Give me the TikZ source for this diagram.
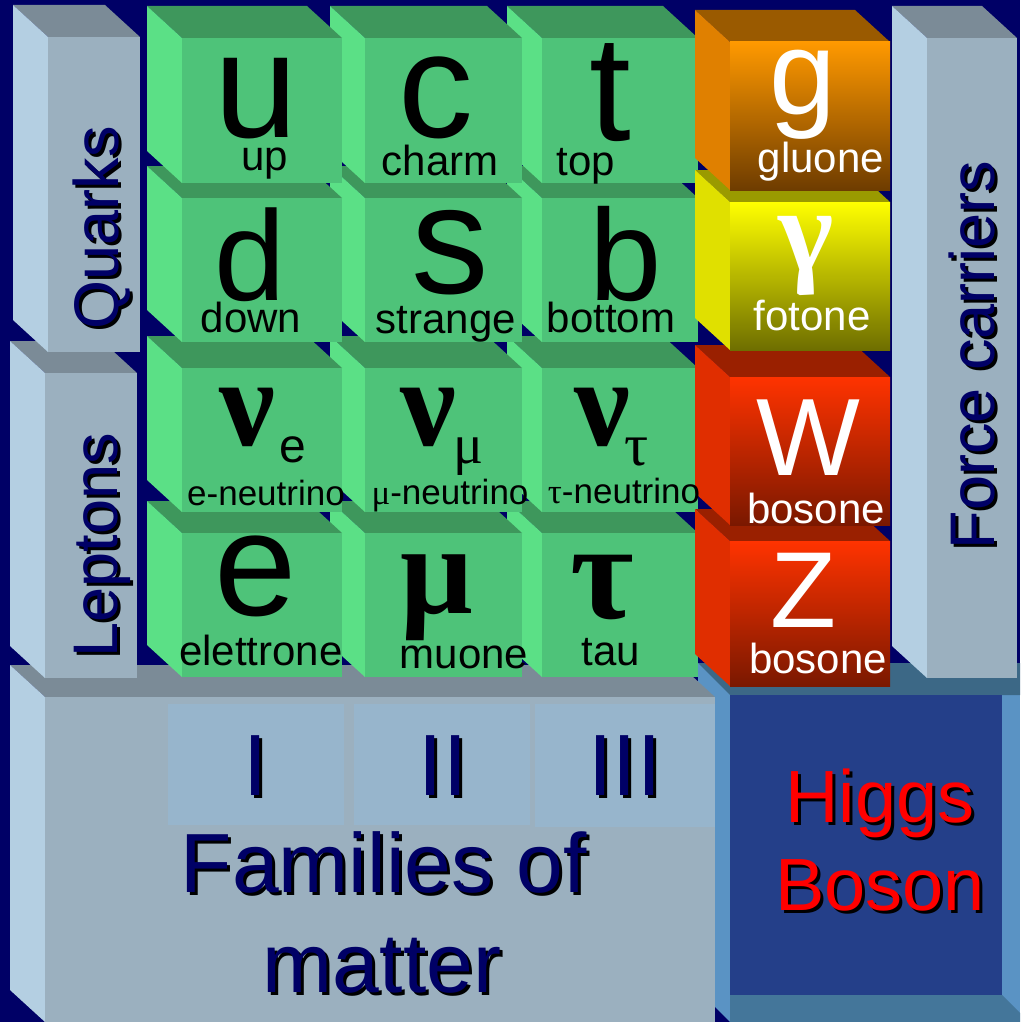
\documentclass[tikz,border=0pt]{standalone}
\usepackage{fontspec}
\setmainfont{Liberation Sans}
\newfontfamily\greekfont{Liberation Serif}
\definecolor{navybg}{HTML}{000066}
\definecolor{navytext}{HTML}{000066}
\definecolor{grayfront}{HTML}{9BB0BF}
\definecolor{graytop}{HTML}{7B8B97}
\definecolor{grayside}{HTML}{B4CFE2}
\definecolor{romanfill}{HTML}{97B5CC}
\definecolor{greenfront}{HTML}{4EC379}
\definecolor{greentop}{HTML}{3E975C}
\definecolor{greenside}{HTML}{5BE086}
\definecolor{gluonhi}{HTML}{FF9900}
\definecolor{gluonlo}{HTML}{6E3C00}
\definecolor{gluontop}{HTML}{9A5A00}
\definecolor{gluonside}{HTML}{E08000}
\definecolor{photonhi}{HTML}{FFFF00}
\definecolor{photonlo}{HTML}{6E6E00}
\definecolor{photontop}{HTML}{9A9A00}
\definecolor{photonside}{HTML}{E0E000}
\definecolor{weakhi}{HTML}{FF3300}
\definecolor{weaklo}{HTML}{7A1800}
\definecolor{weaktop}{HTML}{9A2000}
\definecolor{weakside}{HTML}{E02E00}
\definecolor{higgsfill}{HTML}{243F89}
\definecolor{higgsedge}{HTML}{5A93C4}
\definecolor{higgsupper}{HTML}{3C6886}
\definecolor{higgslower}{HTML}{44769A}
\tikzset{gray front/.style={fill=grayfront}, gray top/.style={fill=graytop}, gray side/.style={fill=grayside},
green front/.style={fill=greenfront}, green top/.style={fill=greentop}, green side/.style={fill=greenside},
gluon front/.style={top color=gluonhi, middle color=gluonhi!70!gluonlo, bottom color=gluonlo},
gluon top/.style={fill=gluontop}, gluon side/.style={fill=gluonside},
photon front/.style={top color=photonhi, middle color=photonhi!70!photonlo, bottom color=photonlo},
photon top/.style={fill=photontop}, photon side/.style={fill=photonside},
weak front/.style={top color=weakhi, middle color=weakhi!70!weaklo, bottom color=weaklo},
weak top/.style={fill=weaktop}, weak side/.style={fill=weakside},
glyph/.style={anchor=base, inner sep=0pt, outer sep=0pt},
greek/.style={glyph, font=\fontsize{#1}{#1}\greekfont\bfseries},
greek sub/.style={glyph, font=\fontsize{#1}{#1}\greekfont},
name label/.style={glyph, font=\fontsize{42}{42}\selectfont},
nu label/.style={glyph, font=\fontsize{35}{35}\selectfont},
group label/.style={glyph, rotate=90, text=navytext, font=\fontsize{63}{63}\selectfont},
family label/.style={glyph, text=navytext, font=\fontsize{84}{84}\selectfont},
roman label/.style={glyph, text=navytext, font=\fontsize{87}{87}\selectfont},
higgs label/.style={glyph, text=red, font=\fontsize{74}{74}\selectfont}}
% box with visible top and left faces, front corners (#1,#2)-(#3,#4)
\newcommand{\boxcube}[5]{%
  \fill[#5 top] (#1,#2) -- (#3,#2) -- ++(-35,-32) -- (#1-35,#2-32) -- cycle;
  \fill[#5 side] (#1,#2) -- (#1-35,#2-32) -- (#1-35,#4-32) -- (#1,#4) -- cycle;
  \fill[#5 front] (#1,#2) rectangle (#3,#4);}
% text with a dark drop shadow, down-right on the page
\newcommand{\dropshadow}[1]{\leavevmode\rlap{\kern3pt\raisebox{-3pt}{\color{black}#1}}#1}
\newcommand{\dropshadowup}[1]{\leavevmode\rlap{\kern-3pt\raisebox{-3pt}{\color{black}#1}}#1}

\begin{document}
\begin{tikzpicture}[x=1pt,y=-1pt]
    \useasboundingbox (0,0) rectangle (1020,1022);
    \clip (0,0) rectangle (1020,1022);
    \fill[navybg] (0,0) rectangle (1020,1022);

    % Higgs block
    \fill[higgsedge] (698,663) rectangle (1020,1022);
    \fill[higgsupper] (698,663) -- (1020,663) -- (1020,695) -- (730,695) -- cycle;
    \fill[higgslower] (730,995) -- (1002,995) -- (1029,1022) -- (730,1022) -- cycle;
    \fill[higgsfill] (730,695) rectangle (1002,995);
    \fill[navybg] (698,990) -- (730,1022) -- (698,1022) -- cycle;
    \node[higgs label] (higgs) at (880,822) {\dropshadow{Higgs}};
    \node[higgs label] (boson) at (880,910) {\dropshadow{Boson}};

    % families of matter
    \boxcube{45}{697}{715}{1022}{gray}
    \fill[romanfill] (168,704) rectangle (344,825);
    \fill[romanfill] (354,704) rectangle (530,825);
    \fill[romanfill] (535,704) rectangle (715,827);
    \node[roman label] (fam1) at (256,795) {\dropshadow{I}};
    \node[roman label] (fam2) at (443,795) {\dropshadow{II}};
    \node[roman label] (fam3) at (625,795) {\dropshadow{III}};
    \node[family label] (families) at (384,892) {\dropshadow{Families of}};
    \node[family label] (matter) at (382,992) {\dropshadow{matter}};

    % side columns
    \boxcube{45}{373}{137}{678}{gray}
    \node[group label] (leptons) at (117,545) {\dropshadowup{Leptons}};
    \boxcube{48}{37}{140}{352}{gray}
    \node[group label] (quarks) at (118,228) {\dropshadowup{Quarks}};
    \boxcube{927}{38}{1017}{678}{gray}
    \node[group label] (carriers) at (994,355) {\dropshadowup{Force carriers}};

    % matter particles, bottom row first
    \boxcube{542}{533}{698}{677}{green}
    \boxcube{365}{533}{522}{677}{green}
    \boxcube{182}{533}{342}{677}{green}
    \boxcube{542}{368}{698}{512}{green}
    \boxcube{365}{368}{522}{512}{green}
    \boxcube{182}{368}{342}{512}{green}
    \boxcube{542}{198}{698}{342}{green}
    \boxcube{365}{198}{522}{342}{green}
    \boxcube{182}{198}{342}{342}{green}
    \boxcube{542}{38}{698}{183}{green}
    \boxcube{365}{38}{522}{183}{green}
    \boxcube{182}{38}{342}{183}{green}

    % force particles
    \boxcube{730}{541}{890}{686}{weak}
    \boxcube{730}{377}{890}{525}{weak}
    \boxcube{730}{202}{890}{350}{photon}
    \boxcube{730}{42}{890}{190}{gluon}

    % quarks
    \node[glyph, font=\fontsize{150}{150}\selectfont] (u) at (256,137) {u};
    \node[name label] (up) at (265,170) {up};
    \node[glyph, font=\fontsize{150}{150}\selectfont] (c) at (436,137) {c};
    \node[name label] (charm) at (440,175) {charm};
    \node[glyph, font=\fontsize{150}{150}\selectfont] (t) at (610,140) {t};
    \node[name label] (top) at (586,175) {top};
    \node[glyph, font=\fontsize{128}{128}\selectfont] (d) at (250,300) {d};
    \node[name label] (down) at (251,332) {down};
    \node[glyph, font=\fontsize{155}{155}\selectfont] (s) at (450,293) {s};
    \node[name label] (strange) at (446,333) {strange};
    \node[glyph, font=\fontsize{130}{130}\selectfont] (b) at (626,300) {b};
    \node[name label] (bottom) at (611,332) {bottom};

    % leptons
    \node[greek=125] (nue) at (247,445) {ν};
    \node[glyph, font=\fontsize{48}{48}\selectfont] (nue-sub) at (293,462) {e};
    \node[nu label] (nue-name) at (266,505) {e-neutrino};
    \node[greek=125] (numu) at (428,445) {ν};
    \node[greek sub=56] (numu-sub) at (469,463) {μ};
    \node[nu label] (numu-name) at (450,504) {{\greekfont μ}-neutrino};
    \node[greek=125] (nutau) at (602,445) {ν};
    \node[greek sub=60] (nutau-sub) at (637,465) {τ};
    \node[nu label] (nutau-name) at (624,503) {{\greekfont τ}-neutrino};
    \node[glyph, font=\fontsize{148}{148}\selectfont] (e) at (256,615) {e};
    \node[name label] (elettrone) at (261,665) {elettrone};
    \node[greek=128] (mu) at (437,613) {μ};
    \node[name label] (muone) at (464,668) {muone};
    \node[greek=138] (tau) at (602,618) {τ};
    \node[name label] (tau-name) at (611,665) {tau};

    % bosons
    \node[glyph, text=white, font=\fontsize{120}{120}\selectfont] (g) at (803,115) {g};
    \node[name label, text=white] (gluone) at (821,172) {gluone};
    \node[greek=118, text=white] (gamma) at (806,270) {γ};
    \node[name label, text=white] (fotone) at (812,330) {fotone};
    \node[glyph, text=white, font=\fontsize{110}{110}\selectfont] (W) at (808,475) {W};
    \node[name label, text=white] (bosoneW) at (816,523) {bosone};
    \node[glyph, text=white, font=\fontsize{108}{108}\selectfont] (Z) at (803,627) {Z};
    \node[name label, text=white] (bosoneZ) at (818,673) {bosone};
\end{tikzpicture}
\end{document}
